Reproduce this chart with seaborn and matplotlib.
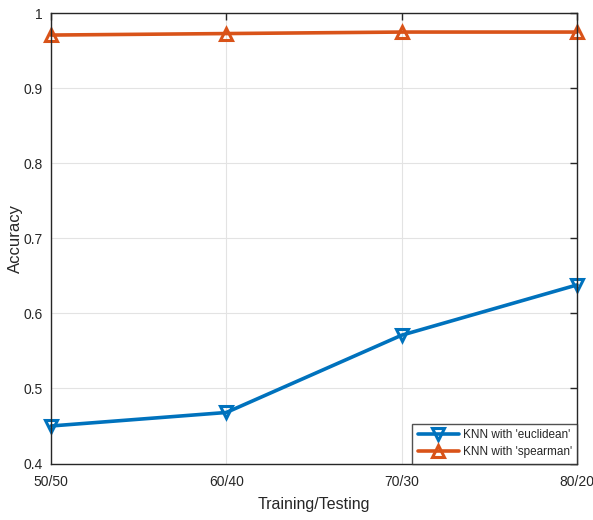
import matplotlib
matplotlib.use("Agg")
import matplotlib.pyplot as plt
import seaborn as sns
import pandas as pd

splits = ["50/50", "60/40", "70/30", "80/20"]
euclidean = [0.450, 0.468, 0.571, 0.638]
spearman = [0.971, 0.973, 0.975, 0.975]
yticks = [0.4, 0.5, 0.6, 0.7, 0.8, 0.9, 1.0]
ytick_labels = ["0.4", "0.5", "0.6", "0.7", "0.8", "0.9", "1"]

sns.set_style("white")
plt.rcParams["font.family"] = ["Liberation Sans", "DejaVu Sans"]

df = pd.DataFrame({"split": splits, "euclidean": euclidean, "spearman": spearman})

fig = plt.figure(figsize=(5.93, 5.2), dpi=100)
ax = fig.add_axes([51/593, 1 - 463.5/520, (577 - 51)/593, (463.5 - 13.3)/520])

blue = "#0072BD"
orange = "#D95319"
sns.lineplot(data=df, x="split", y="euclidean", ax=ax, color=blue, lw=2.6,
             marker="v", markersize=9, markerfacecolor="none", markeredgecolor=blue,
             markeredgewidth=2.2, label="KNN with 'euclidean'", sort=False, clip_on=False)
sns.lineplot(data=df, x="split", y="spearman", ax=ax, color=orange, lw=2.6,
             marker="^", markersize=9, markerfacecolor="none", markeredgecolor=orange,
             markeredgewidth=2.2, label="KNN with 'spearman'", sort=False, clip_on=False)

ax.set_xlim(0, 3)
ax.set_ylim(0.4, 1.0)
ax.set_yticks(yticks)
ax.set_yticklabels(ytick_labels)
ax.set_xticks(range(len(splits)))
ax.set_xticklabels(splits)
ax.grid(True, color="#e3e3e3", lw=0.8)
ax.set_axisbelow(True)
for s in ax.spines.values():
    s.set_color("#262626")
    s.set_linewidth(1.0)
ax.tick_params(direction="in", length=5, width=1.0, colors="#262626",
               labelsize=10, top=True, right=True)
ax.tick_params(axis="y", pad=6)
ax.tick_params(axis="x", pad=8)
ax.set_xlabel("Training/Testing", fontsize=11.5, color="#262626")
ax.set_ylabel("Accuracy", fontsize=12, color="#262626")
ax.xaxis.set_label_coords(0.5, -0.074)
ax.yaxis.set_label_coords(-0.053, 0.5)

leg = ax.legend(loc="lower right", borderaxespad=0, fontsize=8.5, frameon=True,
                fancybox=False, edgecolor="#262626", handlelength=3.5,
                handletextpad=0.3, borderpad=0.45, labelspacing=0.45)
leg.get_frame().set_linewidth(1.0)

fig.savefig("out.png", dpi=100)
